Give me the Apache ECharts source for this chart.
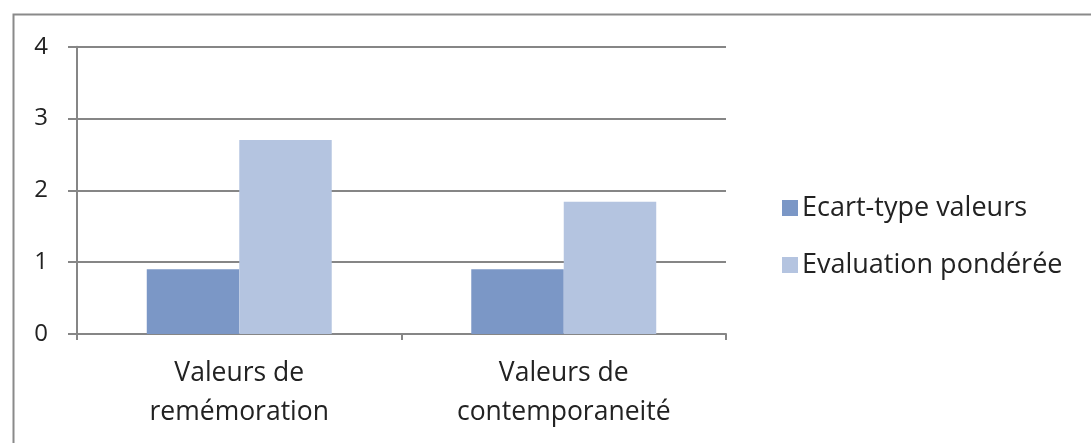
<!DOCTYPE html>
<html><head><meta charset="utf-8">
<script src="https://cdn.jsdelivr.net/npm/echarts@6/dist/echarts.min.js"></script>
<style>html,body{margin:0;padding:0;background:#fff}#c{width:1091px;height:443px}</style>
</head><body><div id="c"></div>
<script>
const categories = ['Valeurs de\nremémoration', 'Valeurs de\ncontemporaneité'];
const seriesNames = ['Ecart-type valeurs', 'Evaluation pondérée'];
const ecartType = [0.9, 0.9];
const evaluation = [2.7, 1.84];
const yTicks = [0, 1, 2, 3, 4];

const font = 'Open Sans';
const chart = echarts.init(document.getElementById('c'), null, {renderer: 'canvas'});
chart.setOption({
  animation: false,
  backgroundColor: '#fff',
  graphic: [{
    type: 'rect', left: 11, top: 12, shape: {width: 1200, height: 600},
    style: {fill: 'none', stroke: '#8a8a8a', lineWidth: 2}, silent: true
  }],
  grid: {left: 77, right: 365, top: 46.7, bottom: 109, containLabel: false},
  legend: {
    orient: 'vertical', left: 777, top: 189,
    itemWidth: 16, itemHeight: 16, itemGap: 29, icon: 'rect',
    textStyle: {fontFamily: font, fontSize: 27, color: '#222', lineHeight: 28, padding: [0,0,0,-1]},
    data: seriesNames
  },
  xAxis: {
    type: 'category', data: categories,
    axisLine: {lineStyle: {color: '#868686', width: 2}},
    axisTick: {show: true, length: 6, lineStyle: {color: '#868686', width: 2}},
    axisLabel: {fontFamily: font, fontSize: 26.5, color: '#222', lineHeight: 39, margin: 20}
  },
  yAxis: {
    type: 'value', min: 0, max: 4, interval: 1,
    axisLine: {show: true, lineStyle: {color: '#868686', width: 2}},
    axisTick: {show: true, length: 9, lineStyle: {color: '#868686', width: 2}},
    splitLine: {lineStyle: {color: '#868686', width: 2}},
    axisLabel: {fontFamily: font, fontSize: 24, color: '#222', margin: 29,
      formatter: v => yTicks.includes(v) ? String(v) : ''}
  },
  series: [
    {name: seriesNames[0], type: 'bar', data: ecartType, itemStyle: {color: '#7b97c6'},
     barGap: '0%', barCategoryGap: '43%'},
    {name: seriesNames[1], type: 'bar', data: evaluation, itemStyle: {color: '#b4c4e0'},
     barGap: '0%', barCategoryGap: '43%'}
  ]
});
</script></body></html>
